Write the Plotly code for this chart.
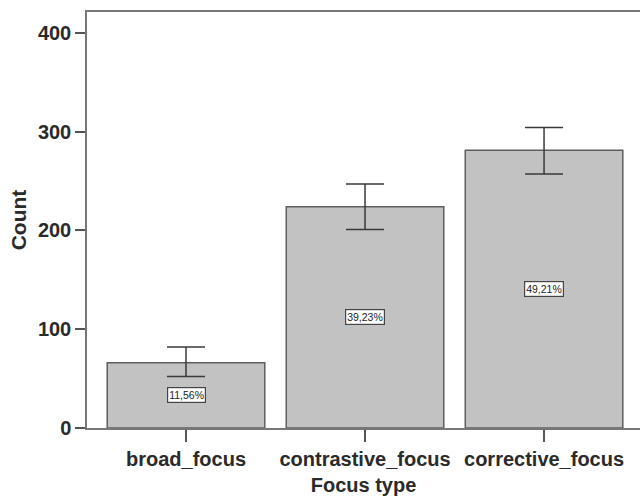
import plotly.graph_objects as go

# focus type counts with 95% CI
focus_types = ["broad_focus", "contrastive_focus", "corrective_focus"]
counts = [66, 224, 281]
ci_upper = [82, 247, 304]
ci_lower = [52, 201, 257]
pct_labels = ["11,56%", "39,23%", "49,21%"]

err_plus = [u - c for u, c in zip(ci_upper, counts)]
err_minus = [c - l for c, l in zip(counts, ci_lower)]

fig = go.Figure()
fig.add_trace(go.Bar(
    x=focus_types, y=counts,
    marker=dict(color="#c2c2c2", line=dict(color="#5e5e5e", width=1.5)),
    error_y=dict(type="data", symmetric=False, array=err_plus, arrayminus=err_minus,
                 color="#3a3a3a", thickness=1.5, width=19),
    showlegend=False,
))

for name, c, lab in zip(focus_types, counts, pct_labels):
    fig.add_annotation(x=name, y=c / 2, text=lab, showarrow=False,
                       font=dict(family="Liberation Sans", size=10.5, color="#222"),
                       bgcolor="white", bordercolor="#444", borderwidth=1.2, borderpad=1)

txt = dict(family="Liberation Sans", size=20, color="#2a2a2a", weight="bold")
fig.update_layout(
    width=640, height=498,
    margin=dict(l=87, r=0, t=12, b=70),
    plot_bgcolor="white", paper_bgcolor="white",
    bargap=0.12,
    xaxis=dict(range=[-0.553, 2.536], showline=True, linecolor="#777", linewidth=1.5,
               mirror=True, ticks="outside", ticklen=12, tickcolor="#555", tickwidth=1.5,
               tickfont=txt, automargin=False,
               title=dict(text="Focus type", font=txt, standoff=9)),
    yaxis=dict(range=[0, 421], tickvals=[0, 100, 200, 300, 400], showgrid=False,
               zeroline=False, showline=True, linecolor="#777", linewidth=1.5, mirror=True,
               ticks="outside", ticklen=10, tickcolor="#555", tickwidth=1.5,
               tickfont=txt, automargin=False,
               title=dict(text="Count", font=dict(txt, size=21), standoff=6)),
)

# drop the default page margin so the figure sits at the window corner
fig.write_html("out.html", config={"displayModeBar": False},
               post_script="document.body.style.margin='0';")
